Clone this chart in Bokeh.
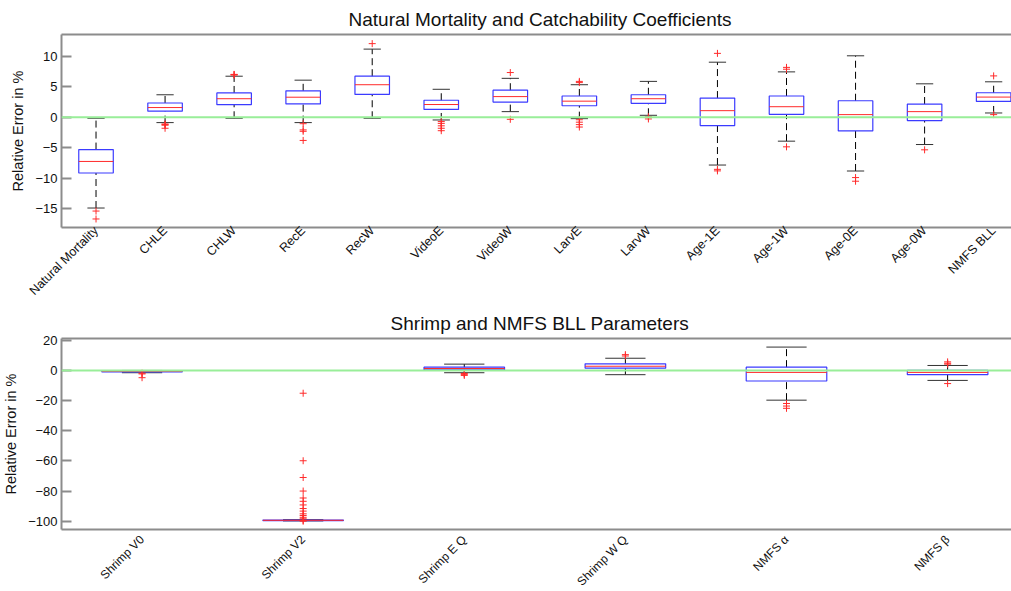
from bokeh.plotting import figure
from bokeh.layouts import column
from bokeh.models import FixedTicker, Span, LinearAxis
from bokeh.embed import file_html
from bokeh.resources import INLINE

# ---- Natural mortality and catchability coefficients ----
top_cats = ["Natural Mortality", "CHLE", "CHLW", "RecE", "RecW", "VideoE", "VideoW",
            "LarvE", "LarvW", "Age-1E", "Age-1W", "Age-0E", "Age-0W", "NMFS BLL"]
top_q1 = [-9.15, 1.0, 2.07, 2.2, 3.75, 1.3, 2.5, 1.9, 2.3, -1.36, 0.49, -2.23, -0.54, 2.61]
top_med = [-7.25, 1.6, 3.05, 3.3, 5.35, 2.1, 3.4, 2.65, 3.05, 1.09, 1.74, 0.44, 0.93, 3.32]
top_q3 = [-5.3, 2.35, 4.0, 4.35, 6.75, 2.8, 4.45, 3.5, 3.7, 3.16, 3.5, 2.72, 2.18, 4.03]
top_lo = [-14.9, -0.87, -0.16, -0.87, -0.16, -0.44, 0.93, -0.22, 0.33, -7.84, -3.92, -8.82, -4.47, 0.71]
top_hi = [-0.16, 3.7, 6.75, 6.1, 11.2, 4.6, 6.4, 5.35, 5.9, 9.05, 7.46, 10.1, 5.5, 5.83]
top_out = [
    [-15.4, -16.7],
    [-1.1, -1.2, -1.3, -1.8],
    [6.95, 7.0, 7.05],
    [-1.05, -2.07, -2.3, -3.8],
    [12.1],
    [-0.7, -1.0, -1.4, -1.8, -2.2],
    [7.35, -0.33],
    [5.7, 5.9, -0.4, -0.8, -1.2, -1.6],
    [0.1, -0.27],
    [10.5, -8.55, -8.8],
    [8.2, 7.9, -4.85],
    [-9.9, -10.5],
    [-5.34],
    [6.8, 0.44],
]
top_yticks = [-15, -10, -5, 0, 5, 10]

# ---- Shrimp and NMFS BLL parameters ----
bot_cats = ["Shrimp V0", "Shrimp V2", "Shrimp E Q", "Shrimp W Q", "NMFS α", "NMFS β"]
bot_q1 = [-0.9, -99.6, 0.4, 1.5, -7.0, -2.8]
bot_med = [-0.5, -99.4, 1.3, 2.8, -1.3, -1.3]
bot_q3 = [-0.2, -99.2, 2.2, 4.4, 2.2, 0.0]
bot_lo = [-1.5, -99.8, -1.5, -2.8, -19.7, -6.6]
bot_hi = [0.0, -99.0, 4.2, 8.1, 15.5, 3.3]
bot_out = [
    [-1.8, -2.3, -4.8],
    [-15.1, -59.9, -71.0, -80.0, -84.6, -86.8, -89.2, -91.6, -93.3, -95.1, -96.2,
     -97.4, -98.4, -99.5, -100.0],
    [-2.0, -2.6, -3.3],
    [10.5, 9.6],
    [-21.9, -23.6, -25.1],
    [5.7, 4.8, 4.2, -8.7],
]
bot_yticks = [-100, -80, -60, -40, -20, 0, 20]

FONT = "Liberation Sans"
GRAY = "#8c8c8c"


def box_panel(title, cats, q1, med, q3, lo, hi, outs, yticks, yr, xr_end,
              frame_h, border_top, label_size, label_standoff):
    n = len(cats)
    xs = list(range(1, n + 1))
    p = figure(frame_width=957, frame_height=frame_h, x_range=(0.5, xr_end), y_range=yr,
               output_backend="svg", toolbar_location=None, title=title,
               min_border_left=54, min_border_right=0, min_border_top=border_top,
               min_border_bottom=0)
    p.title.align = "center"
    p.title.text_font = FONT
    p.title.text_font_size = "19px"
    p.title.text_font_style = "normal"
    p.title.text_color = "#111111"
    p.title.standoff = 10
    p.grid.visible = False
    p.outline_line_color = None
    p.background_fill_color = "white"
    p.border_fill_color = "white"

    # zero reference line
    p.add_layout(Span(location=0, dimension="width", line_color="#99ee99", line_width=2))

    # whiskers (dashed) and caps
    p.segment(xs, q3, xs, hi, line_color="black", line_dash="7 4", line_width=1)
    p.segment(xs, lo, xs, q1, line_color="black", line_dash="7 4", line_width=1)
    p.segment([x - 0.125 for x in xs], hi, [x + 0.125 for x in xs], hi,
              line_color="#333333", line_width=1)
    p.segment([x - 0.125 for x in xs], lo, [x + 0.125 for x in xs], lo,
              line_color="#333333", line_width=1)
    # boxes and medians
    p.quad(left=[x - 0.25 for x in xs], right=[x + 0.25 for x in xs], top=q3, bottom=q1,
           fill_color=None, line_color="#3b3bff", line_width=1.2)
    p.segment([x - 0.25 for x in xs], med, [x + 0.25 for x in xs], med,
              line_color="#ff2a2a", line_width=1)
    # outliers
    ox, oy = [], []
    for x, vals in zip(xs, outs):
        for v in vals:
            ox.append(x)
            oy.append(v)
    p.scatter(ox, oy, marker="cross", size=7, line_color="#ff2a2a", line_width=1)

    # axes
    p.xaxis.ticker = FixedTicker(ticks=xs)
    p.xaxis.major_label_overrides = {x: c for x, c in zip(xs, cats)}
    p.xaxis.major_label_orientation = 0.785398
    p.xaxis.major_tick_line_color = None
    p.xaxis.major_tick_in = 0
    p.xaxis.major_tick_out = 0
    p.xaxis.minor_tick_line_color = None
    p.xaxis.axis_line_color = GRAY
    p.xaxis.axis_line_width = 2
    p.xaxis.major_label_text_font = FONT
    p.xaxis.major_label_text_font_size = label_size
    p.xaxis.major_label_text_color = "#111111"
    p.xaxis.major_label_standoff = label_standoff

    p.yaxis.ticker = FixedTicker(ticks=yticks)
    p.yaxis.major_tick_in = 10
    p.yaxis.major_tick_out = 0
    p.yaxis.major_tick_line_color = GRAY
    p.yaxis.major_tick_line_width = 2
    p.yaxis.minor_tick_line_color = None
    p.yaxis.axis_line_color = GRAY
    p.yaxis.axis_line_width = 2
    p.yaxis.major_label_text_font = FONT
    p.yaxis.major_label_text_font_size = "13px"
    p.yaxis.major_label_text_color = "#111111"
    p.yaxis.major_label_standoff = 4
    p.yaxis.axis_label = "Relative Error in %"
    p.yaxis.axis_label_text_font = FONT
    p.yaxis.axis_label_text_font_size = "14.5px"
    p.yaxis.axis_label_text_font_style = "normal"
    p.yaxis.axis_label_text_color = "#111111"
    p.yaxis.axis_label_standoff = 6

    # top frame line
    top_axis = LinearAxis(axis_line_color=GRAY, axis_line_width=2,
                          major_tick_line_color=None, minor_tick_line_color=None,
                          major_tick_in=0, major_tick_out=0, major_label_standoff=0,
                          major_label_text_font_size="0px", ticker=FixedTicker(ticks=[]))
    p.add_layout(top_axis, "above")
    return p


p1 = box_panel("Natural Mortality and Catchability Coefficients", top_cats, top_q1, top_med,
               top_q3, top_lo, top_hi, top_out, top_yticks, (-18.1, 13.6), 14.36,
               193, 34, "12.5px", 1)
p2 = box_panel("Shrimp and NMFS BLL Parameters", bot_cats, bot_q1, bot_med, bot_q3, bot_lo,
               bot_hi, bot_out, bot_yticks, (-105.5, 21.2), 6.44, 191, 31, "12px", 8)

layout = column(p1, p2, spacing=0)
open("out.html", "w").write(file_html(layout, INLINE))
